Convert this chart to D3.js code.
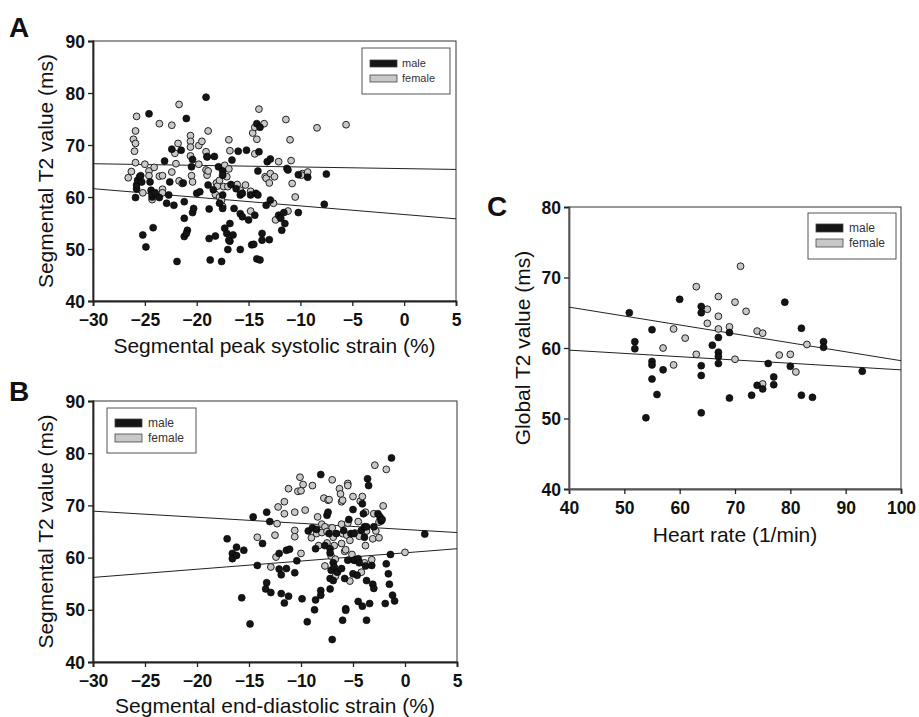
<!DOCTYPE html>
<html><head><meta charset="utf-8">
<script src="https://cdn.jsdelivr.net/npm/d3@7"></script>
<style>body{margin:0;background:#fff}svg{display:block}text{font-family:"Liberation Sans",Arial,sans-serif}</style>
</head><body>
<svg id="c" width="919" height="717"></svg>
<script>
// ---------- DATA ----------
const strainTicks = [-30,-25,-20,-15,-10,-5,0,5];
const t2TicksAB = [40,50,60,70,80,90];
const hrTicks = [40,50,60,70,80,90,100];
const t2TicksC = [40,50,60,70,80];
const legendLabels = ["male","female"];

const aMale = [[-24.6,76.0],[-25.9,59.9],[-25.8,61.6],[-25.8,62.3],[-25.7,63.2],[-25.5,63.9],[-25.3,62.9],[-25.4,64.1],[-25.2,52.7],[-24.9,50.4],[-24.5,62.9],[-24.4,61.3],[-24.3,60.0],[-24.3,60.5],[-24.2,54.1],[-24.0,60.8],[-23.6,59.9],[-23.1,66.9],[-22.9,58.8],[-22.7,60.4],[-22.6,62.9],[-22.4,69.2],[-22.2,58.4],[-21.9,47.6],[-21.5,69.0],[-21.3,62.7],[-21.2,59.1],[-21.2,55.9],[-21.0,75.1],[-21.2,52.4],[-20.9,53.6],[-21.0,53.0],[-20.5,65.8],[-20.4,67.2],[-20.4,57.0],[-20.3,57.8],[-20.0,60.7],[-19.7,61.0],[-19.1,79.2],[-19.0,67.7],[-18.9,62.3],[-18.8,52.0],[-18.8,57.7],[-18.7,47.9],[-18.4,61.4],[-18.3,67.8],[-18.2,52.5],[-17.9,65.8],[-17.8,58.8],[-17.6,47.6],[-17.5,65.0],[-17.5,64.2],[-17.5,60.4],[-17.5,57.8],[-17.3,54.0],[-17.1,53.0],[-17.0,49.9],[-16.8,51.5],[-16.9,51.7],[-16.8,54.9],[-16.7,62.4],[-16.6,67.1],[-16.5,52.7],[-16.4,57.8],[-16.2,61.6],[-16.0,68.8],[-15.8,49.9],[-15.8,60.4],[-15.8,56.8],[-15.6,60.7],[-15.6,56.2],[-15.2,69.0],[-15.0,55.6],[-14.8,60.4],[-14.7,50.8],[-14.5,50.9],[-14.4,56.5],[-14.3,60.7],[-14.2,74.1],[-14.1,60.4],[-14.1,65.0],[-14.0,68.7],[-13.9,73.4],[-13.7,53.0],[-13.7,51.7],[-13.3,58.4],[-14.2,48.1],[-13.9,47.9],[-13.2,66.8],[-13.0,51.8],[-12.9,59.4],[-12.9,67.3],[-12.1,56.5],[-11.9,55.9],[-11.8,53.6],[-11.6,57.0],[-11.5,54.9],[-11.3,65.5],[-11.2,65.2],[-10.2,57.0],[-10.2,64.3],[-9.3,63.8],[-7.7,58.6],[-7.5,64.4]];
const aFemale = [[-26.6,63.7],[-26.3,64.9],[-26.1,71.1],[-25.9,70.3],[-26.0,68.8],[-25.9,66.6],[-25.8,75.5],[-25.9,72.7],[-25.2,60.8],[-25.0,66.3],[-24.6,65.0],[-24.6,64.1],[-24.3,59.5],[-24.1,65.7],[-23.6,64.0],[-23.3,64.1],[-23.3,61.5],[-23.3,60.8],[-23.6,74.1],[-22.4,73.8],[-22.4,64.8],[-22.1,68.4],[-22.0,66.4],[-21.7,77.8],[-21.8,70.3],[-21.7,63.1],[-21.4,62.6],[-20.6,71.8],[-20.6,70.7],[-20.6,69.6],[-20.6,67.9],[-20.5,64.1],[-20.4,62.9],[-19.8,69.9],[-19.8,66.3],[-19.5,70.7],[-18.9,72.7],[-19.1,65.2],[-19.0,64.2],[-19.1,68.7],[-19.0,67.8],[-18.9,65.0],[-18.2,60.5],[-18.1,62.7],[-18.0,62.1],[-17.8,60.0],[-17.8,63.2],[-17.6,59.4],[-17.5,58.2],[-17.4,62.0],[-17.3,66.1],[-17.0,62.0],[-16.9,71.0],[-16.8,68.9],[-17.1,63.9],[-16.9,65.4],[-16.1,62.4],[-15.8,61.3],[-15.3,62.3],[-14.8,57.3],[-14.8,61.1],[-14.6,72.3],[-14.4,73.4],[-14.2,71.1],[-14.4,68.3],[-14.0,76.9],[-13.5,74.1],[-13.4,63.9],[-13.3,63.6],[-13.0,62.7],[-12.9,64.5],[-12.6,58.8],[-12.5,63.9],[-12.4,55.6],[-12.1,66.8],[-11.4,74.9],[-11.2,57.3],[-11.0,71.0],[-10.9,67.0],[-10.8,62.6],[-10.5,60.0],[-9.8,64.5],[-9.9,64.2],[-9.3,64.8],[-8.4,73.3],[-5.6,73.9]];
const aLines = [[-30,66.4,5,65.3],[-30,61.6,5,55.8]];

const bMale = [[-17.1,63.6],[-16.6,60.8],[-16.6,59.8],[-16.2,62.0],[-16.2,60.4],[-15.5,61.4],[-15.7,52.3],[-14.9,47.3],[-14.6,67.8],[-14.2,58.5],[-13.7,62.7],[-13.3,68.7],[-13.0,66.9],[-13.3,55.2],[-13.4,54.0],[-12.9,53.3],[-12.1,57.8],[-12.1,60.8],[-11.9,56.7],[-11.9,53.1],[-11.6,51.3],[-11.4,61.4],[-11.1,61.6],[-11.2,52.6],[-11.4,57.9],[-10.6,57.1],[-10.4,59.4],[-9.9,52.1],[-9.4,47.7],[-9.3,65.1],[-8.9,65.7],[-8.7,50.0],[-8.6,61.7],[-8.6,51.9],[-8.1,75.9],[-8.1,53.7],[-8.1,52.8],[-8.5,65.4],[-7.7,62.3],[-7.5,68.1],[-7.4,68.7],[-7.3,64.6],[-7.2,61.7],[-7.2,60.9],[-7.1,57.6],[-7.2,56.0],[-7.0,44.3],[-7.2,54.0],[-6.9,55.6],[-6.9,59.0],[-6.8,58.2],[-6.6,64.6],[-6.5,57.2],[-6.1,57.9],[-6.0,48.0],[-5.9,65.2],[-5.7,50.2],[-5.7,49.9],[-5.8,56.0],[-5.5,59.5],[-5.4,67.3],[-5.2,64.6],[-5.0,69.2],[-5.0,56.9],[-4.9,59.5],[-4.9,64.6],[-4.8,59.5],[-4.6,56.6],[-4.5,59.8],[-4.5,51.6],[-4.4,59.0],[-4.2,65.2],[-4.1,70.3],[-4.1,50.7],[-4.0,68.4],[-3.9,65.9],[-3.9,63.9],[-3.8,58.4],[-3.7,65.9],[-3.7,55.6],[-3.7,48.0],[-3.6,75.1],[-3.5,73.8],[-3.4,51.2],[-3.2,58.5],[-3.1,54.9],[-3.0,54.1],[-3.0,65.9],[-2.6,68.4],[-2.4,67.8],[-2.3,67.0],[-2.2,67.3],[-1.8,58.8],[-1.9,51.2],[-1.6,56.9],[-1.5,54.9],[-1.4,60.6],[-1.3,79.1],[-1.2,52.8],[-1.0,51.7],[1.9,64.5]];
const bFemale = [[-14.2,63.9],[-12.5,64.3],[-12.3,66.5],[-12.2,69.7],[-12.4,60.1],[-12.9,58.2],[-11.6,70.7],[-11.6,68.4],[-11.2,73.2],[-10.6,65.2],[-10.6,64.0],[-10.6,68.7],[-10.3,72.7],[-10.1,75.4],[-10.0,72.8],[-9.8,74.0],[-10.0,60.8],[-9.6,69.1],[-9.0,63.8],[-8.9,73.8],[-8.5,64.6],[-8.4,67.8],[-8.3,62.3],[-8.0,66.4],[-8.0,64.8],[-7.8,71.4],[-7.7,65.9],[-7.5,65.0],[-7.5,62.8],[-7.4,71.0],[-7.3,71.1],[-7.7,58.4],[-7.1,60.3],[-7.0,74.9],[-7.0,65.7],[-6.9,63.9],[-6.8,62.3],[-6.7,56.4],[-6.7,59.7],[-6.3,73.2],[-6.2,72.2],[-6.1,62.7],[-6.1,66.4],[-6.1,70.7],[-6.0,71.0],[-6.0,64.6],[-5.8,61.2],[-5.7,61.5],[-5.5,74.2],[-5.5,73.8],[-5.6,64.3],[-5.5,66.6],[-5.3,63.3],[-5.3,55.5],[-5.1,60.6],[-5.0,71.7],[-4.8,64.7],[-4.5,66.9],[-4.4,64.1],[-4.3,70.8],[-4.1,71.7],[-4.2,57.2],[-3.9,59.0],[-3.8,62.3],[-3.8,68.7],[-3.7,65.1],[-3.2,59.6],[-3.1,63.6],[-3.0,68.4],[-2.9,77.7],[-2.8,65.1],[-2.5,63.8],[-2.5,66.8],[-2.1,69.9],[-1.8,76.9],[0.0,61.0]];
const bLines = [[-30,68.9,5,64.8],[-30,56.2,5,61.7]];

const cMale = [[50.9,65.0],[51.9,60.9],[51.9,59.9],[55.0,62.6],[55.0,58.1],[55.0,57.6],[55.0,55.6],[55.9,53.4],[53.9,50.1],[57.0,56.9],[60.0,66.9],[63.9,65.9],[63.9,65.0],[63.9,57.5],[63.9,56.1],[63.9,50.8],[65.9,60.4],[67.0,61.5],[67.0,59.4],[67.0,58.8],[67.0,57.8],[69.0,62.2],[69.0,52.9],[73.0,53.3],[74.0,54.7],[75.0,54.2],[76.0,57.8],[77.0,55.9],[77.0,54.8],[79.0,66.5],[80.0,57.4],[82.0,62.8],[82.0,53.3],[84.0,53.0],[86.0,60.9],[86.0,60.1],[93.0,56.7]];
const cFemale = [[58.9,62.7],[57.0,60.0],[58.9,57.6],[61.0,61.4],[63.0,68.7],[63.0,59.1],[65.0,65.5],[65.0,63.5],[67.0,67.3],[67.0,64.5],[67.0,62.7],[69.0,63.0],[70.0,66.5],[70.0,58.4],[71.0,71.6],[72.0,65.2],[74.0,62.4],[75.0,62.1],[75.0,54.9],[78.0,59.0],[80.0,59.1],[81.0,56.6],[83.0,60.5]];
const cLines = [[40,65.8,100,58.2],[40,59.7,100,56.9]];

// ---------- DRAW ----------
const svg = d3.select("#c");
const FEM = "#c8c8c8", MAL = "#151515";

function panel(o){
  const g = svg.append("g");
  const x = d3.scaleLinear().domain(o.xd).range([o.l,o.r]);
  const y = d3.scaleLinear().domain(o.yd).range([o.b,o.t]);
  g.append("rect").attr("x",o.l).attr("y",o.t).attr("width",o.r-o.l).attr("height",o.b-o.t)
    .attr("fill","none").attr("stroke","#333").attr("stroke-width",1);
  const xa = g.append("g").attr("transform",`translate(0,${o.b})`)
    .call(d3.axisBottom(x).tickValues(o.xt).tickSize(5).tickPadding(4).tickFormat(d3.format("d")));
  const ya = g.append("g").attr("transform",`translate(${o.l},0)`)
    .call(d3.axisLeft(y).tickValues(o.yt).tickSize(5).tickPadding(3).tickFormat(d3.format("d")));
  [xa,ya].forEach(a=>{
    a.select(".domain").attr("stroke",o.axc||"#222").attr("stroke-width",1.8);
    a.selectAll(".tick line").attr("stroke","#222").attr("stroke-width",1.3);
    a.selectAll(".tick text").attr("fill","#111").style("font-size","17.5px").style("font-weight","bold")
      .style("font-family","'Liberation Sans',Arial,sans-serif");
  });
  xa.selectAll(".tick text").attr("dy","0.9em");
  ya.selectAll(".tick text").attr("dy","0.35em");
  g.selectAll(".rl").data(o.lines).join("line")
    .attr("x1",d=>x(d[0])).attr("y1",d=>y(d[1])).attr("x2",d=>x(d[2])).attr("y2",d=>y(d[3]))
    .attr("stroke","#222").attr("stroke-width",1);
  const pts = g.append("g");
  pts.selectAll(".f").data(o.female).join("circle")
    .attr("cx",d=>x(d[0])).attr("cy",d=>y(d[1])).attr("r",3.4)
    .attr("fill",FEM).attr("stroke","#222").attr("stroke-width",1);
  pts.selectAll(".m").data(o.male).join("circle")
    .attr("cx",d=>x(d[0])).attr("cy",d=>y(d[1])).attr("r",3.5)
    .attr("fill",MAL).attr("stroke","#000").attr("stroke-width",0.6);
  g.append("text").attr("x",(o.l+o.r)/2).attr("y",o.xty).attr("text-anchor","middle")
    .style("font-size","21px").attr("fill","#111").text(o.xtitle);
  g.append("text").attr("transform",`translate(${o.ytx},${(o.t+o.b)/2}) rotate(-90)`)
    .attr("text-anchor","middle").style("font-size","21px").attr("fill","#111").text(o.ytitle);
  g.append("text").attr("x",o.lx).attr("y",o.ly).style("font-size","28px").style("font-weight","bold")
    .attr("fill","#111").text(o.letter);
  const L = o.leg;
  g.append("rect").attr("x",L.x).attr("y",L.y).attr("width",L.w).attr("height",L.h)
    .attr("fill","#fff").attr("stroke","#555").attr("stroke-width",1);
  legendLabels.forEach((lab,i)=>{
    g.append("rect").attr("x",L.x+L.sx).attr("y",L.y+L.sy+i*L.dy).attr("width",L.sw).attr("height",L.sh)
      .attr("fill",i===0?MAL:FEM).attr("stroke","#444").attr("stroke-width",0.8);
    g.append("text").attr("x",L.x+L.tx).attr("y",L.y+L.sy+i*L.dy+L.sh/2).attr("dy","0.35em")
      .style("font-size",L.fs+"px").attr("fill","#333").text(lab);
  });
}

panel({l:93,r:456,t:41,b:301,xd:[-30,5],yd:[40,90],xt:strainTicks,yt:t2TicksAB,
  male:aMale,female:aFemale,lines:aLines,
  xtitle:"Segmental peak systolic strain (%)",ytitle:"Segmental T2 value (ms)",
  xty:353,ytx:53,letter:"A",lx:9,ly:37,
  leg:{x:362,y:48,w:88,h:46,sx:8,sy:12,dy:15,sw:27,sh:7,tx:40,fs:11}});
panel({l:93,r:457,t:401,b:662,xd:[-30,5],yd:[40,90],xt:strainTicks,yt:t2TicksAB,
  male:bMale,female:bFemale,lines:bLines,
  xtitle:"Segmental end-diastolic strain (%)",ytitle:"Segmental T2 value (ms)",
  xty:713,ytx:53,letter:"B",lx:9,ly:401,
  leg:{x:107,y:408,w:89,h:45,sx:8,sy:11,dy:15,sw:27,sh:8,tx:41,fs:12}});
panel({l:569,r:901,t:207,b:489,xd:[40,100],yd:[40,80],xt:hrTicks,yt:t2TicksC,
  male:cMale,female:cFemale,lines:cLines,axc:"#555",
  xtitle:"Heart rate (1/min)",ytitle:"Global T2 value (ms)",
  xty:542,ytx:530,letter:"C",lx:487,ly:216,
  leg:{x:808,y:213,w:88,h:46,sx:8,sy:11,dy:15,sw:27,sh:8,tx:41,fs:12}});
</script>
</body></html>
